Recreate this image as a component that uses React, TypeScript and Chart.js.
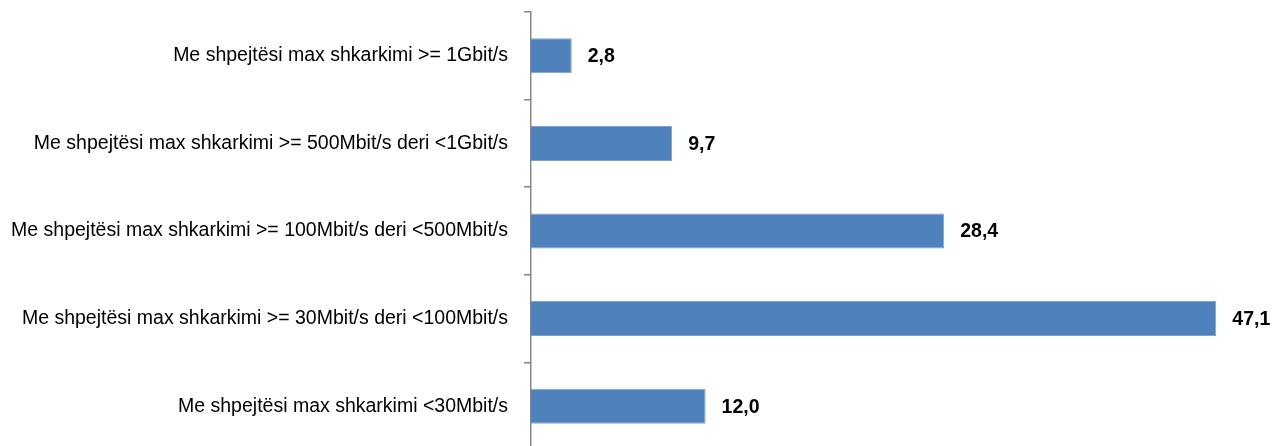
import React, { useEffect, useRef } from "react";
import { Chart, registerables } from "chart.js";

Chart.register(...registerables);

const categories: string[] = [
  "Me shpejtësi max shkarkimi >= 1Gbit/s",
  "Me shpejtësi max shkarkimi >= 500Mbit/s deri <1Gbit/s",
  "Me shpejtësi max shkarkimi >= 100Mbit/s deri <500Mbit/s",
  "Me shpejtësi max shkarkimi >= 30Mbit/s deri <100Mbit/s",
  "Me shpejtësi max shkarkimi <30Mbit/s",
];
const values: number[] = [2.8, 9.7, 28.4, 47.1, 12.0];

const FONT = "'Liberation Sans', Arial, sans-serif";

const valueLabels = {
  id: "valueLabels",
  afterDatasetsDraw(chart: any) {
    const ctx = chart.ctx;
    const meta = chart.getDatasetMeta(0);
    ctx.save();
    ctx.font = `bold 19.5px ${FONT}`;
    ctx.fillStyle = "#000000";
    ctx.textAlign = "left";
    ctx.textBaseline = "middle";
    meta.data.forEach((bar: any, i: number) => {
      const v = values[i];
      ctx.fillText(v.toFixed(1).replace(".", ","), bar.x + 16, bar.y + 1);
    });
    ctx.restore();
  },
};

export default function App() {
  const ref = useRef<HTMLCanvasElement | null>(null);
  useEffect(() => {
    document.body.style.margin = "0";
    document.body.style.overflow = "hidden";
    const canvas = ref.current!;
    const chart = new Chart(canvas, {
      type: "bar",
      data: {
        labels: categories,
        datasets: [
          {
            data: values,
            backgroundColor: "#4F81BD",
            borderColor: "#7DA1CF",
            borderWidth: 1,
            barPercentage: 0.4,
            categoryPercentage: 1,
          },
        ],
      },
      options: {
        indexAxis: "y",
        responsive: false,
        animation: false,
        devicePixelRatio: 1,
        layout: { padding: { left: 0, right: 23.5, top: 12, bottom: 0 } },
        plugins: {
          legend: { display: false },
          tooltip: { enabled: false },
        },
        scales: {
          x: { display: false, min: 0, max: 50 },
          y: {
            afterFit: (scale: any) => {
              scale.width = 531;
              scale.paddingTop = 0;
              scale.paddingBottom = 0;
            },
            grid: {
              offset: true,
              drawOnChartArea: false,
              drawTicks: true,
              tickLength: 7,
              color: "#888888",
              lineWidth: 1.5,
            },
            border: { display: true, color: "#888888", width: 1.5 },
            ticks: {
              color: "#000000",
              padding: 16,
              font: { family: FONT, size: 19.5 },
            },
          },
        },
      },
      plugins: [valueLabels],
    });
    return () => chart.destroy();
  }, []);
  return <canvas ref={ref} width={1282} height={450} style={{ display: "block" }} />;
}
